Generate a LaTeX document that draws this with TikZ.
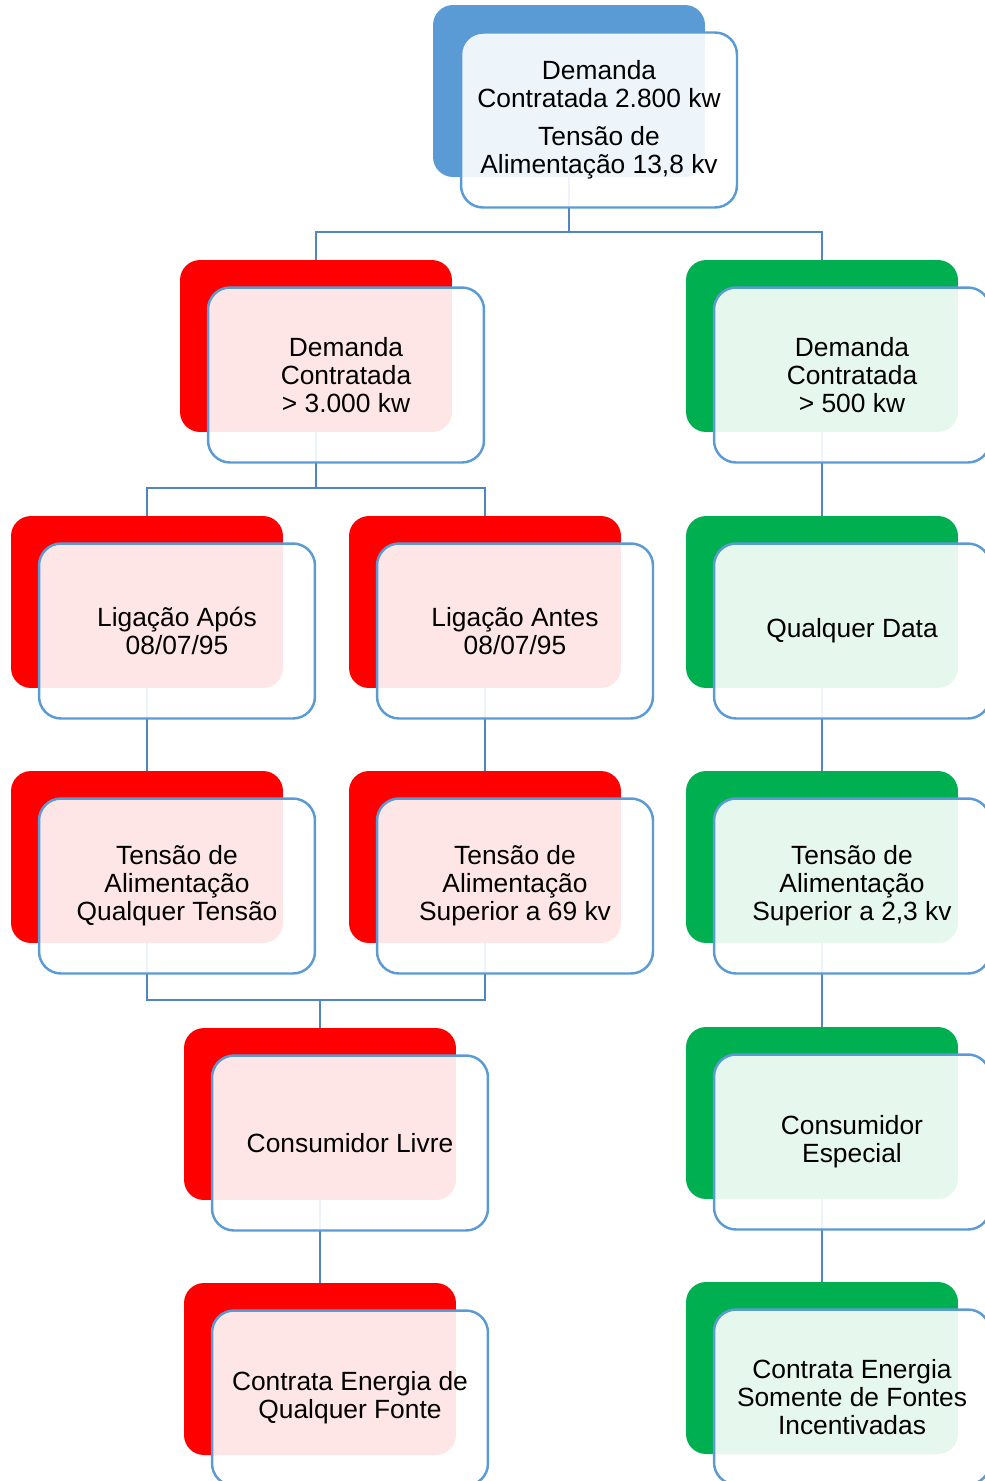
\documentclass[tikz,border=0pt]{standalone}
\usepackage{fontspec}
\setmainfont{Liberation Sans}
\definecolor{topblue}{HTML}{5B9BD5}
\definecolor{redbox}{HTML}{FF0000}
\definecolor{greenbox}{HTML}{00B050}
\definecolor{boxline}{HTML}{5B9BD5}
\definecolor{linkblue}{HTML}{4F86C0}
\begin{document}
\begin{tikzpicture}[x=0.02cm,y=-0.02cm,
    back/.style={fill=#1,rounded corners=0.4cm,minimum width=5.44cm,minimum height=3.44cm,inner sep=0pt},
    front/.style={draw=boxline,line width=1.4pt,fill=white,fill opacity=0.9,text opacity=1,
        rounded corners=0.44cm,minimum width=5.52cm,minimum height=3.5cm,inner sep=0pt,
        align=center,font=\fontsize{15}{16}\selectfont},
    link/.style={draw=linkblue,line width=1.5pt}]
        \useasboundingbox (0,0) rectangle (984,1481);

        % back boxes
        \node[back=topblue] (dem) at (569,91) {};
        \node[back=redbox] (ddr) at (316,346) {};
        \node[back=greenbox] (ddg) at (822,346) {};
        \node[back=redbox] (lap) at (147,602) {};
        \node[back=redbox] (lan) at (485,602) {};
        \node[back=greenbox] (qdt) at (822,602) {};
        \node[back=redbox] (tqt) at (147,857) {};
        \node[back=redbox] (t69) at (485,857) {};
        \node[back=greenbox] (t23) at (822,857) {};
        \node[back=redbox] (clv) at (320,1114) {};
        \node[back=greenbox] (cesp) at (822,1113) {};
        \node[back=redbox] (cqf) at (320,1369) {};
        \node[back=greenbox] (cfi) at (822,1368) {};

        % connectors
        \coordinate (j1) at (569,232);
        \draw[link] (dem.south) -- (j1) -| (ddr.north);
        \draw[link] (j1) -| (ddg.north);
        \coordinate (j2) at (316,488);
        \draw[link] (ddr.south) -- (j2) -| (lap.north);
        \draw[link] (j2) -| (lan.north);
        \draw[link] (ddg.south) -- (qdt.north);
        \draw[link] (lap.south) -- (tqt.north);
        \draw[link] (lan.south) -- (t69.north);
        \draw[link] (qdt.south) -- (t23.north);
        \coordinate (j3) at (320,1000);
        \draw[link] (tqt.south) |- (j3) -- (clv.north);
        \draw[link] (t69.south) |- (j3);
        \draw[link] (t23.south) -- (cesp.north);
        \draw[link] (clv.south) -- (cqf.north);
        \draw[link] (cesp.south) -- (cfi.north);

        % front boxes
        \node[front] (demf) at (599,120) {Demanda\\Contratada 2.800 kw\\[5.7pt]Tensão de\\Alimentação 13,8 kv};
        \node[front] (ddrf) at (346,375) {Demanda\\Contratada\\> 3.000 kw};
        \node[front] (ddgf) at (852,375) {Demanda\\Contratada\\> 500 kw};
        \node[front] (lapf) at (177,631) {Ligação Após\\08/07/95};
        \node[front] (lanf) at (515,631) {Ligação Antes\\08/07/95};
        \node[front] (qdtf) at (852,631) {Qualquer Data};
        \node[front] (tqtf) at (177,886) {Tensão de\\Alimentação\\Qualquer Tensão};
        \node[front] (t69f) at (515,886) {Tensão de\\Alimentação\\Superior a 69 kv};
        \node[front] (t23f) at (852,886) {Tensão de\\Alimentação\\Superior a 2,3 kv};
        \node[front] (clvf) at (350,1143) {Consumidor Livre};
        \node[front] (cespf) at (852,1142) {Consumidor\\Especial};
        \node[front] (cqff) at (350,1398) {Contrata Energia de\\Qualquer Fonte};
        \node[front] (cfif) at (852,1397) {Contrata Energia\\Somente de Fontes\\Incentivadas};

    \end{tikzpicture}
\end{document}
